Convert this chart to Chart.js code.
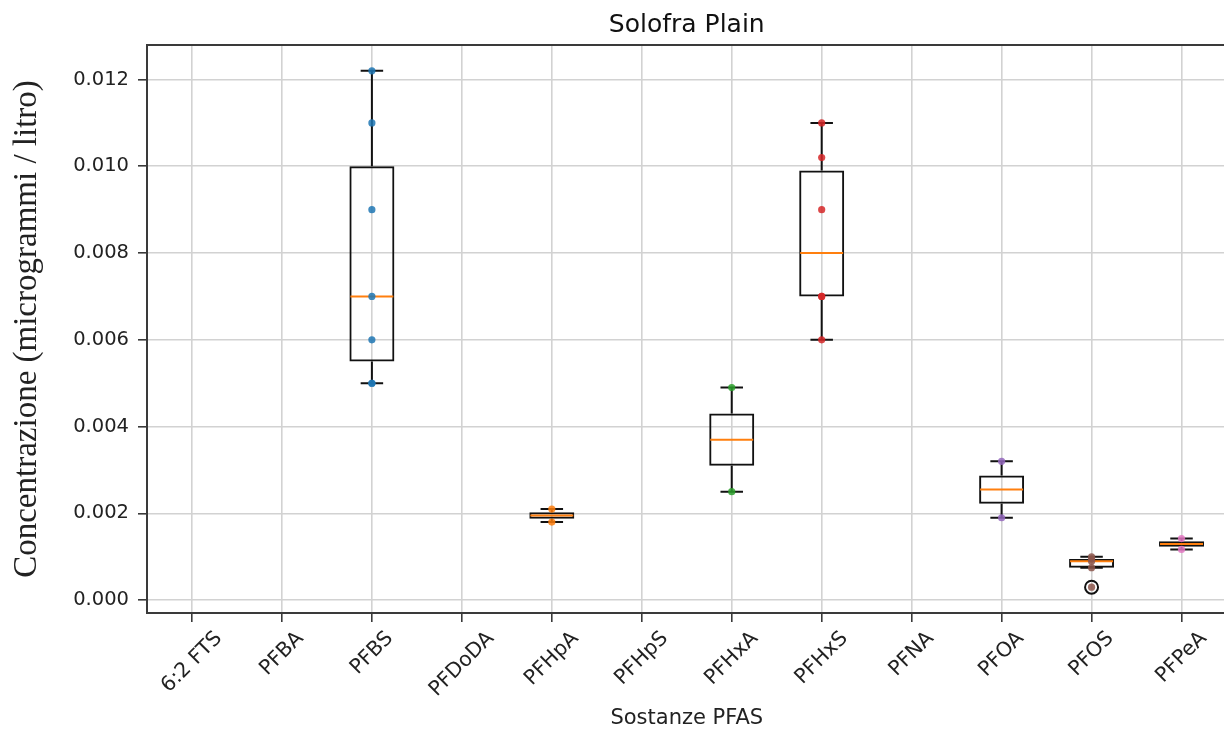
<!DOCTYPE html>
<html lang="it">
  <head>
    <meta charset="UTF-8" />
    <title>Solofra Plain</title>
    <script src="https://cdn.jsdelivr.net/npm/chart.js"></script>
    <style>
      body {
        margin: 0;
        background: #fff;
        overflow: hidden;
      }
    </style>
  </head>
  <body>
    <canvas id="boxChart" width="1235" height="733"></canvas>

    <script>
      // substances on the x axis
      const categories = [
        "6:2 FTS", "PFBA", "PFBS", "PFDoDA", "PFHpA", "PFHpS",
        "PFHxA", "PFHxS", "PFNA", "PFOA", "PFOS", "PFPeA",
      ];

      // measured concentrations (µg/l) per substance
      const valuesPFBS = [0.005, 0.005, 0.006, 0.007, 0.009, 0.011, 0.0122];
      const valuesPFHpA = [0.0018, 0.0021];
      const valuesPFHxA = [0.0025, 0.0049];
      const valuesPFHxS = [0.006, 0.007, 0.007, 0.009, 0.0102, 0.011];
      const valuesPFOA = [0.0019, 0.0032];
      const valuesPFOS = [0.0003, 0.00075, 0.0009, 0.00095, 0.001];
      const valuesPFPeA = [0.00117, 0.00142];

      const yTicks = [0, 0.002, 0.004, 0.006, 0.008, 0.01, 0.012];

      const measured = [
        ["PFBS", valuesPFBS],
        ["PFHpA", valuesPFHpA],
        ["PFHxA", valuesPFHxA],
        ["PFHxS", valuesPFHxS],
        ["PFOA", valuesPFOA],
        ["PFOS", valuesPFOS],
        ["PFPeA", valuesPFPeA],
      ];

      // tab10 colours, one per substance with data
      const pointColors = [
        "rgba(31,119,180,0.85)",
        "rgba(255,127,14,0.85)",
        "rgba(44,160,44,0.85)",
        "rgba(214,39,40,0.85)",
        "rgba(148,103,189,0.85)",
        "rgba(140,86,75,0.85)",
        "rgba(227,119,194,0.85)",
      ];

      // numpy-style linear percentile
      function percentile(sorted, p) {
        const pos = (sorted.length - 1) * p;
        const lo = Math.floor(pos);
        const hi = Math.ceil(pos);
        return sorted[lo] + (sorted[hi] - sorted[lo]) * (pos - lo);
      }

      function boxStats(values) {
        const s = [...values].sort((a, b) => a - b);
        const q1 = percentile(s, 0.25);
        const med = percentile(s, 0.5);
        const q3 = percentile(s, 0.75);
        const iqr = q3 - q1;
        const inside = s.filter((v) => v >= q1 - 1.5 * iqr && v <= q3 + 1.5 * iqr);
        return {
          q1, med, q3,
          lo: Math.min(q1, inside[0]),
          hi: Math.max(q3, inside[inside.length - 1]),
          fliers: s.filter((v) => !inside.includes(v)),
        };
      }

      const stats = {};
      measured.forEach(([name, vals]) => (stats[name] = boxStats(vals)));

      const boxData = categories.map((c) => (stats[c] ? [stats[c].q1, stats[c].q3] : null));
      const medianData = categories.map((c) => (stats[c] ? stats[c].med : null));
      const lowData = categories.map((c) => (stats[c] ? stats[c].lo : null));
      const highData = categories.map((c) => (stats[c] ? stats[c].hi : null));
      const flierPoints = [];
      measured.forEach(([name]) =>
        stats[name].fliers.forEach((v) => flierPoints.push({ x: name, y: v }))
      );

      const pointSets = measured.map(([name, vals], i) => ({
        type: "scatter",
        data: vals.map((v) => ({ x: name, y: v })),
        backgroundColor: pointColors[i],
        borderColor: pointColors[i],
        borderWidth: 0,
        pointRadius: 3.6,
      }));

      const datasets = [
        ...pointSets,
        {
          type: "scatter",
          data: flierPoints,
          backgroundColor: "rgba(255,255,255,0)",
          borderColor: "#111",
          borderWidth: 2,
          pointRadius: 6.5,
        },
        {
          type: "bar",
          data: boxData,
          backgroundColor: "rgba(0,0,0,0)",
          borderColor: "#111",
          borderWidth: 2,
          borderSkipped: false,
          barPercentage: 0.5,
          categoryPercentage: 1,
        },
      ];
      const boxIndex = datasets.length - 1;

      // whiskers, caps and medians, drawn right after the boxes
      const whiskerPlugin = {
        id: "whiskers",
        afterDatasetDraw(chart, args) {
          if (args.index !== boxIndex) return;
          const { ctx, scales } = chart;
          const xs = scales.x;
          const ys = scales.y;
          const band = xs.getPixelForValue(1) - xs.getPixelForValue(0);
          const cap = band * 0.125;
          const half = band * 0.25;
          ctx.save();
          categories.forEach((c, i) => {
            if (medianData[i] === null) return;
            const x = xs.getPixelForValue(i);
            const q1 = ys.getPixelForValue(boxData[i][0]);
            const q3 = ys.getPixelForValue(boxData[i][1]);
            const lo = ys.getPixelForValue(lowData[i]);
            const hi = ys.getPixelForValue(highData[i]);
            ctx.strokeStyle = "#111";
            ctx.lineWidth = 2;
            ctx.beginPath();
            ctx.moveTo(x, q3);
            ctx.lineTo(x, hi);
            ctx.moveTo(x - cap, hi);
            ctx.lineTo(x + cap, hi);
            ctx.moveTo(x, q1);
            ctx.lineTo(x, lo);
            ctx.moveTo(x - cap, lo);
            ctx.lineTo(x + cap, lo);
            ctx.stroke();
            const m = ys.getPixelForValue(medianData[i]);
            ctx.strokeStyle = "#ff7f0e";
            ctx.beginPath();
            ctx.moveTo(x - half + 1, m);
            ctx.lineTo(x + half - 1, m);
            ctx.stroke();
          });
          ctx.restore();
        },
      };

      // frame around the plot area
      const framePlugin = {
        id: "frame",
        beforeDatasetsDraw(chart) {
          const { ctx, chartArea: a } = chart;
          ctx.save();
          ctx.strokeStyle = "#3a3a3a";
          ctx.lineWidth = 2;
          ctx.strokeRect(a.left, a.top, a.right - a.left, a.bottom - a.top);
          ctx.restore();
        },
      };

      // rotated x tick labels, centred under each tick
      const xLabelPlugin = {
        id: "xLabels",
        afterDraw(chart) {
          const { ctx, scales, chartArea } = chart;
          const size = 20.5;
          ctx.save();
          ctx.font = size + "px 'DejaVu Sans'";
          ctx.fillStyle = "#222";
          ctx.textAlign = "center";
          ctx.textBaseline = "middle";
          categories.forEach((c, i) => {
            const x = scales.x.getPixelForValue(i);
            const w = ctx.measureText(c).width;
            const boxH = (w + size) * Math.SQRT1_2;
            const cy = chartArea.bottom + 15 + boxH / 2;
            ctx.save();
            ctx.translate(x, cy);
            ctx.rotate(-Math.PI / 4);
            ctx.fillText(c, 0, 0);
            ctx.restore();
          });
          ctx.restore();
        },
      };

      new Chart(document.getElementById("boxChart"), {
        type: "bar",
        data: { labels: categories, datasets },
        options: {
          responsive: false,
          animation: false,
          layout: { padding: 0 },
          plugins: {
            legend: { display: false },
            tooltip: { enabled: false },
            title: {
              display: true,
              fullSize: false,
              text: "Solofra Plain",
              color: "#111",
              font: { family: "DejaVu Sans", size: 25, weight: "normal" },
              padding: { top: 10, bottom: 5 },
            },
          },
          scales: {
            x: {
              type: "category",
              offset: true,
              grid: {
                offset: false,
                color: "#d2d2d2",
                lineWidth: 1.6,
                tickColor: "#3a3a3a",
                tickLength: 9,
                tickWidth: 1.6,
              },
              border: { display: false },
              ticks: { display: false },
              title: {
                display: true,
                text: "Sostanze PFAS",
                color: "#222",
                font: { family: "DejaVu Sans", size: 21 },
                padding: { top: 0, bottom: 2 },
              },
              afterFit: (scale) => {
                scale.height = 120;
              },
            },
            y: {
              type: "linear",
              min: -0.000295,
              max: 0.012795,
              afterBuildTicks: (scale) => {
                scale.ticks = yTicks.map((v) => ({ value: v }));
              },
              grid: {
                color: "#d2d2d2",
                lineWidth: 1.6,
                tickColor: "#3a3a3a",
                tickLength: 9,
                tickWidth: 1.6,
              },
              border: { display: false },
              ticks: {
                padding: 9,
                color: "#222",
                font: { family: "DejaVu Sans", size: 19.5 },
                callback: (v) => Number(v).toFixed(3),
              },
              title: {
                display: true,
                text: "Concentrazione (microgrammi / litro)",
                color: "#222",
                font: { family: "Liberation Serif", size: 33 },
                padding: { top: 8, bottom: 0 },
              },
              afterFit: (scale) => {
                scale.width = 147;
              },
            },
          },
        },
        plugins: [whiskerPlugin, framePlugin, xLabelPlugin],
      });
    </script>
  </body>
</html>
